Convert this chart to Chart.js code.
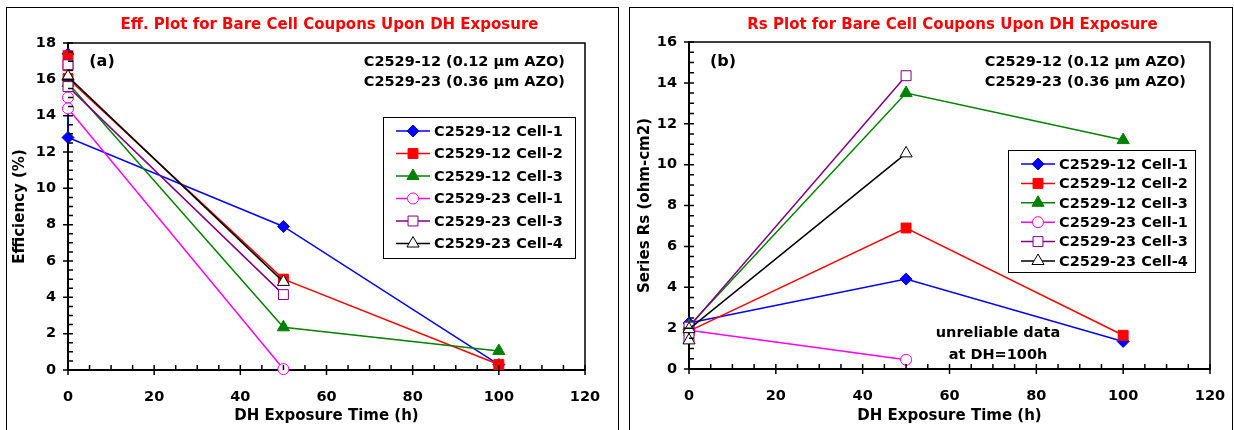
<!DOCTYPE html>
<html>
<head>
<meta charset="utf-8">
<script src="https://cdn.jsdelivr.net/npm/chart.js@4.4.1/dist/chart.umd.min.js"></script>
<style>
  body { margin: 0; background: #fff; width: 1234px; height: 430px; overflow: hidden; position: relative; }
  .box { position: absolute; top: 7px; height: 440px; border: 1px solid #000; }
  canvas { position: absolute; top: 7px; }
</style>
</head>
<body>
<div class="box" style="left:6px;width:611px"></div>
<div class="box" style="left:629px;width:602px"></div>
<canvas id="eff" width="612" height="423" style="left:6px"></canvas>
<canvas id="rs" width="603" height="423" style="left:629px"></canvas>
<script>
// series names
const seriesNames = ['C2529-12 Cell-1', 'C2529-12 Cell-2', 'C2529-12 Cell-3',
                     'C2529-23 Cell-1', 'C2529-23 Cell-3', 'C2529-23 Cell-4'];

// (a) efficiency (%) vs DH exposure time (h)
const effX1 = [0, 0, 50, 100],    eff1 = [17.4, 12.8, 7.9, 0.3];
const effX2 = [0, 0, 0, 50, 100], eff2 = [17.3, 16.75, 16.05, 5.0, 0.3];
const effX3 = [0, 0, 50, 100],    eff3 = [16.15, 15.8, 2.35, 1.05];
const effX4 = [0, 0, 50],         eff4 = [15.0, 14.4, 0.05];
const effX5 = [0, 0, 50],         eff5 = [16.8, 15.6, 4.15];
const effX6 = [0, 50],            eff6 = [16.15, 4.85];

// (b) series Rs (ohm-cm2) vs DH exposure time (h)
const rsX1 = [0, 50, 100],  rs1 = [2.25, 4.4, 1.35];
const rsX2 = [0, 50, 100],  rs2 = [1.85, 6.9, 1.65];
const rsX3 = [0, 50, 100],  rs3 = [2.1, 13.5, 11.2];
const rsX4 = [0, 50],       rs4 = [1.9, 0.45];
const rsX5 = [0, 0, 50],    rs5 = [1.55, 2.05, 14.35];
const rsX6 = [0, 0, 50],    rs6 = [1.4, 1.95, 10.55];

const xMax = 120, xStep = 20, xMinor = 5;
const effMax = 18, rsMax = 16, yStep = 2, yMinor = 0.5;

// styles
const colors  = ['#0000ff', '#ff0000', '#008000', '#ff00ff', '#800080', '#000000'];
const markers = ['rectRot', 'rect', 'triangle', 'circle', 'rect', 'triangle'];
const filled  = [true, true, true, false, false, false];
const radii   = [6, 7, 7, 5.5, 7, 7];

const FONT = "'DejaVu Sans', sans-serif";
Chart.defaults.font.family = FONT;
Chart.defaults.font.weight = 'bold';
Chart.defaults.color = '#000';

function pts(xs, ys) {
  return xs.map((x, i) => ({ x: x, y: ys[i] }));
}

function makeDatasets(list) {
  return list.map((d, i) => ({
    label: seriesNames[i],
    data: pts(d[0], d[1]),
    showLine: true,
    borderColor: colors[i],
    borderWidth: 1.5,
    pointStyle: markers[i],
    pointRadius: radii[i],
    pointHoverRadius: radii[i],
    pointBorderColor: colors[i],
    pointBackgroundColor: filled[i] ? colors[i] : '#ffffff',
    pointBorderWidth: 1,
    clip: false,
    order: 6 - i
  }));
}

function drawMarker(ctx, style, x, y, r, color, fill) {
  ctx.beginPath();
  if (style === 'circle') {
    ctx.arc(x, y, r, 0, Math.PI * 2);
  } else if (style === 'rect') {
    const s = r * Math.SQRT1_2;
    ctx.rect(x - s, y - s, 2 * s, 2 * s);
  } else if (style === 'rectRot') {
    ctx.moveTo(x - r, y); ctx.lineTo(x, y - r); ctx.lineTo(x + r, y); ctx.lineTo(x, y + r);
  } else if (style === 'triangle') {
    let a = 0;
    ctx.moveTo(x + Math.sin(a) * r, y - Math.cos(a) * r);
    a += Math.PI * 2 / 3;
    ctx.lineTo(x + Math.sin(a) * r, y - Math.cos(a) * r);
    a += Math.PI * 2 / 3;
    ctx.lineTo(x + Math.sin(a) * r, y - Math.cos(a) * r);
  }
  ctx.closePath();
  ctx.fillStyle = fill ? color : '#fff';
  ctx.fill();
  ctx.lineWidth = 1;
  ctx.strokeStyle = color;
  ctx.stroke();
}

const decor = {
  id: 'decor',
  afterDraw(chart, args, o) {
    const { ctx, chartArea: a } = chart;
    const x = chart.scales.x, y = chart.scales.y;
    ctx.save();

    // plot frame (top / right)
    ctx.strokeStyle = '#000';
    ctx.lineWidth = 1.5;
    ctx.beginPath();
    ctx.moveTo(a.left, a.top); ctx.lineTo(a.right, a.top); ctx.lineTo(a.right, a.bottom);
    ctx.stroke();

    // tick marks: major cross the axis, minor point inward
    ctx.beginPath();
    for (let v = x.min; v <= x.max + 1e-9; v += xMinor) {
      const px = x.getPixelForValue(v);
      const major = Math.abs(v % xStep) < 1e-6;
      ctx.moveTo(px, a.bottom + (major ? 5 : 0));
      ctx.lineTo(px, a.bottom - 5);
    }
    for (let v = y.min; v <= y.max + 1e-9; v += yMinor) {
      const py = y.getPixelForValue(v);
      const major = Math.abs(v % yStep) < 1e-6;
      ctx.moveTo(a.left - (major ? 5 : 0), py);
      ctx.lineTo(a.left + 5, py);
    }
    ctx.stroke();

    // titles and notes
    ctx.textBaseline = 'middle';
    ctx.fillStyle = '#ff0000';
    ctx.font = 'bold 15px ' + FONT;
    ctx.textAlign = 'center';
    ctx.fillText(o.title, (a.left + a.right) / 2 + 3, 18);

    ctx.fillStyle = '#000';
    ctx.font = 'bold 16px ' + FONT;
    ctx.fillText(o.tag, a.left + 34, 55);

    ctx.font = 'bold 14.5px ' + FONT;
    ctx.textAlign = 'right';
    ctx.fillText('C2529-12 (0.12 \u00b5m AZO)', o.noteX, 55);
    ctx.fillText('C2529-23 (0.36 \u00b5m AZO)', o.noteX, 75);

    if (o.extra) {
      ctx.textAlign = 'center';
      o.extra.forEach((t, i) => ctx.fillText(t, o.extraX, o.extraY + i * 22));
    }

    // legend box
    const L = o.legend;
    ctx.fillStyle = '#fff';
    ctx.fillRect(L.x, L.y, L.w, L.h);
    ctx.lineWidth = 1;
    ctx.strokeStyle = '#000';
    ctx.strokeRect(L.x + 0.5, L.y + 0.5, L.w, L.h);
    chart.data.datasets.forEach((ds, i) => {
      const ry = L.y + L.first + i * L.gap;
      ctx.beginPath();
      ctx.strokeStyle = colors[i];
      ctx.lineWidth = 1.5;
      ctx.moveTo(L.x + 13, ry); ctx.lineTo(L.x + 47, ry);
      ctx.stroke();
      drawMarker(ctx, markers[i], L.x + 30, ry, radii[i], colors[i], filled[i]);
      ctx.fillStyle = '#000';
      ctx.textAlign = 'left';
      ctx.font = 'bold 14.5px ' + FONT;
      ctx.fillText(ds.label, L.x + 51, ry + 1);
    });
    ctx.restore();
  }
};

function makeScales(yMax, yTitle, yWidth, xHeight, yTitlePad) {
  return {
    x: {
      type: 'linear', min: 0, max: xMax,
      ticks: { stepSize: xStep, padding: 19, font: { size: 14.5, weight: 'bold' }, color: '#000' },
      grid: { display: false, drawTicks: false },
      border: { display: true, color: '#000', width: 2 },
      title: { display: true, text: 'DH Exposure Time (h)', color: '#000',
               font: { size: 15, weight: 'bold' }, padding: { top: 0, bottom: 5 } },
      afterFit(s) { s.height = xHeight; s.paddingLeft = 0; s.paddingRight = 0; }
    },
    y: {
      type: 'linear', min: 0, max: yMax,
      ticks: { stepSize: yStep, padding: 12, font: { size: 14.5, weight: 'bold' }, color: '#000' },
      grid: { display: false, drawTicks: false },
      border: { display: true, color: '#000', width: 2 },
      title: { display: true, text: yTitle, color: '#000',
               font: { size: 15, weight: 'bold' }, padding: { top: yTitlePad, bottom: 0 } },
      afterFit(s) { s.width = yWidth; s.paddingTop = 0; s.paddingBottom = 0; }
    }
  };
}

new Chart(document.getElementById('eff'), {
  type: 'scatter',
  data: {
    datasets: makeDatasets([[effX1, eff1], [effX2, eff2], [effX3, eff3],
                            [effX4, eff4], [effX5, eff5], [effX6, eff6]])
  },
  options: {
    responsive: false, animation: false, events: [],
    layout: { padding: { top: 36, right: 33, left: 0, bottom: 0 } },
    scales: makeScales(effMax, 'Efficiency (%)', 62, 60, 5),
    plugins: {
      legend: { display: false }, tooltip: { enabled: false },
      decor: {
        title: 'Eff. Plot for Bare Cell Coupons Upon DH Exposure',
        tag: '(a)', noteX: 559,
        legend: { x: 377, y: 110, w: 192, h: 141, first: 14, gap: 22.5 }
      }
    }
  },
  plugins: [decor]
});

new Chart(document.getElementById('rs'), {
  type: 'scatter',
  data: {
    datasets: makeDatasets([[rsX1, rs1], [rsX2, rs2], [rsX3, rs3],
                            [rsX4, rs4], [rsX5, rs5], [rsX6, rs6]])
  },
  options: {
    responsive: false, animation: false, events: [],
    layout: { padding: { top: 35, right: 22, left: 0, bottom: 0 } },
    scales: makeScales(rsMax, 'Series Rs (ohm-cm2)', 60, 61, 7),
    plugins: {
      legend: { display: false }, tooltip: { enabled: false },
      decor: {
        title: 'Rs Plot for Bare Cell Coupons Upon DH Exposure',
        tag: '(b)', noteX: 557,
        extra: ['unreliable data', 'at DH=100h'], extraX: 369, extraY: 326,
        legend: { x: 379, y: 143, w: 187, h: 122, first: 14, gap: 19.4 }
      }
    }
  },
  plugins: [decor]
});
</script>
</body>
</html>
